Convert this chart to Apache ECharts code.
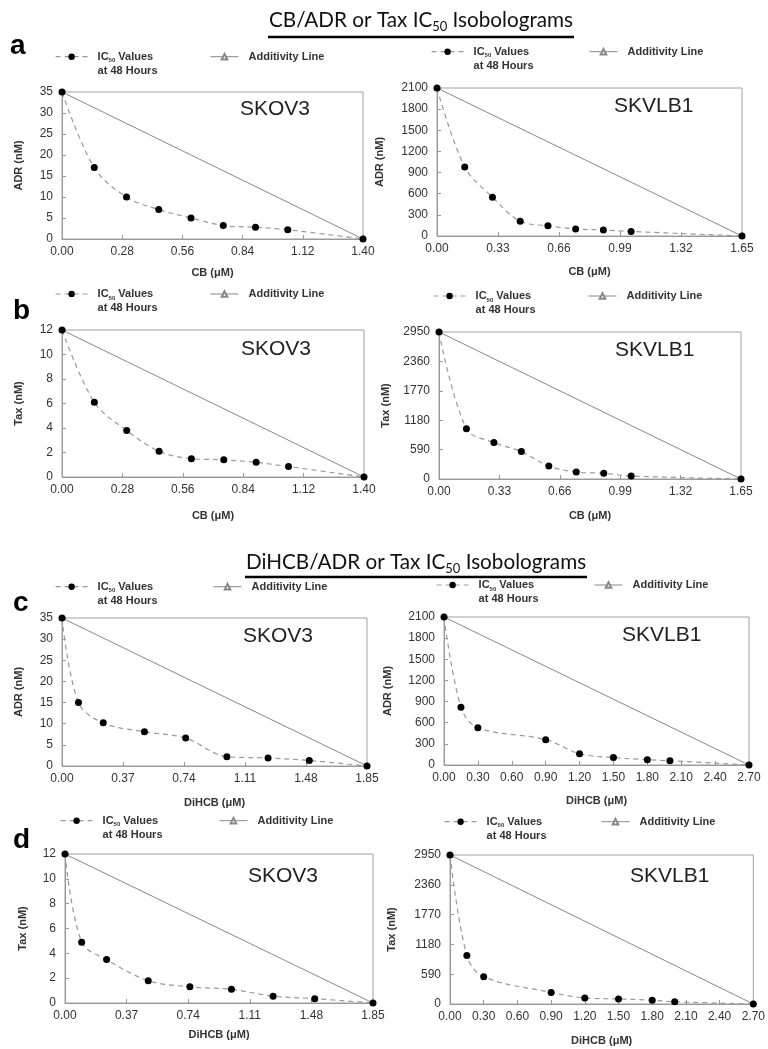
<!DOCTYPE html>
<html><head><meta charset="utf-8">
<script src="https://cdn.jsdelivr.net/npm/echarts@6/dist/echarts.min.js"></script>
<style>html,body{margin:0;padding:0;background:#fff}#c{width:768px;height:1049px}</style>
</head><body><div id="c"></div>
<script>
// ---------- DATA ----------
// Panel a (CB / ADR)
const aSkov3X = [0, 0.15, 0.30, 0.45, 0.60, 0.75, 0.90, 1.05, 1.40];
const aSkov3Y = [35, 17, 10, 7, 5, 3.2, 2.8, 2.2, 0];
const aSkvlb1X = [0, 0.15, 0.30, 0.45, 0.60, 0.75, 0.90, 1.05, 1.65];
const aSkvlb1Y = [2100, 980, 550, 210, 145, 100, 85, 65, 0];
// Panel b (CB / Tax)
const bSkov3X = [0, 0.15, 0.30, 0.45, 0.60, 0.75, 0.90, 1.05, 1.40];
const bSkov3Y = [12, 6.1, 3.8, 2.1, 1.5, 1.4, 1.2, 0.85, 0];
const bSkvlb1X = [0, 0.15, 0.30, 0.45, 0.60, 0.75, 0.90, 1.05, 1.65];
const bSkvlb1Y = [2950, 1010, 730, 550, 260, 140, 115, 60, 0];
// Panel c (DiHCB / ADR)
const cSkov3X = [0, 0.10, 0.25, 0.50, 0.75, 1.00, 1.25, 1.50, 1.85];
const cSkov3Y = [35, 15, 10.2, 8.1, 6.6, 2.2, 1.9, 1.3, 0];
const cSkvlb1X = [0, 0.15, 0.30, 0.90, 1.20, 1.50, 1.80, 2.00, 2.70];
const cSkvlb1Y = [2100, 820, 530, 360, 160, 105, 75, 60, 0];
// Panel d (DiHCB / Tax)
const dSkov3X = [0, 0.10, 0.25, 0.50, 0.75, 1.00, 1.25, 1.50, 1.85];
const dSkov3Y = [12, 4.9, 3.5, 1.8, 1.3, 1.1, 0.55, 0.35, 0];
const dSkvlb1X = [0, 0.15, 0.30, 0.90, 1.20, 1.50, 1.80, 2.00, 2.70];
const dSkvlb1Y = [2950, 960, 540, 230, 120, 100, 75, 45, 0];

// Axis ranges  [max, interval]
const xRangeCB_SKOV3 = [1.40, 0.28];
const xRangeCB_SKVLB1 = [1.65, 0.33];
const xRangeDi_SKOV3 = [1.85, 0.37];
const xRangeDi_SKVLB1 = [2.70, 0.30];
const yRangeADR_SKOV3 = [35, 5];
const yRangeADR_SKVLB1 = [2100, 300];
const yRangeTax_SKOV3 = [12, 2];
const yRangeTax_SKVLB1 = [2950, 590];

const titles = ['CB/ADR or Tax IC', 'DiHCB/ADR or Tax IC'];
const panelLetters = ['a', 'b', 'c', 'd'];
const cellNames = ['SKOV3', 'SKVLB1'];
const IC_NAME = 'IC50 Values at 48 Hours';
const ADD_NAME = 'Additivity Line';

// ---------- PANELS (data refs + layout) ----------
const panels = [
  {x:aSkov3X, y:aSkov3Y, xr:xRangeCB_SKOV3, yr:yRangeADR_SKOV3, xn:'CB (μM)', yn:'ADR (nM)', cell:0,
   g:[62,92,301,147], xg:28, yg:38, ly:56.7, ic:[50,97], ad:[213,248], cl:[240,110]},
  {x:aSkvlb1X, y:aSkvlb1Y, xr:xRangeCB_SKVLB1, yr:yRangeADR_SKVLB1, xn:'CB (μM)', yn:'ADR (nM)', cell:1,
   g:[437,88,305,148], xg:30, yg:52, ly:51.7, ic:[437,473], ad:[587,627], cl:[614,107]},
  {x:bSkov3X, y:bSkov3Y, xr:xRangeCB_SKOV3, yr:yRangeTax_SKOV3, xn:'CB (μM)', yn:'Tax (nM)', cell:0,
   g:[62,330,302,147], xg:33, yg:38, ly:294, ic:[60,97], ad:[218,248], cl:[241,350]},
  {x:bSkvlb1X, y:bSkvlb1Y, xr:xRangeCB_SKVLB1, yr:yRangeTax_SKVLB1, xn:'CB (μM)', yn:'Tax (nM)', cell:1,
   g:[439,332,302,147], xg:31, yg:48, ly:296, ic:[439,475], ad:[591,626], cl:[615,351]},
  {x:cSkov3X, y:cSkov3Y, xr:xRangeDi_SKOV3, yr:yRangeADR_SKOV3, xn:'DiHCB (μM)', yn:'ADR (nM)', cell:0,
   g:[62,618,305,148], xg:31, yg:38, ly:586.7, ic:[62,97], ad:[213,251], cl:[243,637]},
  {x:cSkvlb1X, y:cSkvlb1Y, xr:xRangeDi_SKVLB1, yr:yRangeADR_SKVLB1, xn:'DiHCB (μM)', yn:'ADR (nM)', cell:1,
   g:[444,617,305,148], xg:30, yg:51, ly:585, ic:[444,478], ad:[596,632], cl:[622,636]},
  {x:dSkov3X, y:dSkov3Y, xr:xRangeDi_SKOV3, yr:yRangeTax_SKOV3, xn:'DiHCB (μM)', yn:'Tax (nM)', cell:0,
   g:[65,854,308,149], xg:26, yg:37, ly:820.7, ic:[63,102], ad:[218,257], cl:[248,877]},
  {x:dSkvlb1X, y:dSkvlb1Y, xr:xRangeDi_SKVLB1, yr:yRangeTax_SKVLB1, xn:'DiHCB (μM)', yn:'Tax (nM)', cell:1,
   g:[450,855,307,149], xg:31, yg:53, ly:821.7, ic:[451,486], ad:[604,639], cl:[630,877]}
];

const FONT = 'Arial, "Liberation Sans", sans-serif';
const TFONT = 'Lato, "Open Sans", sans-serif';
const grid = [], xAxis = [], yAxis = [], series = [], legend = [], graphic = [];

panels.forEach((p, i) => {
  grid.push({left:p.g[0], top:p.g[1], width:p.g[2], height:p.g[3], show:true,
             borderColor:'#a0a0a0', borderWidth:1, containLabel:false});
  xAxis.push({type:'value', gridIndex:i, min:0, max:p.xr[0], interval:p.xr[1],
    name:p.xn, nameLocation:'middle', nameGap:p.xg,
    nameTextStyle:{fontFamily:FONT, fontSize:11, fontWeight:'bold', color:'#333'},
    axisLine:{show:true, lineStyle:{color:'#999', width:1}},
    axisTick:{show:true, inside:true, length:4, lineStyle:{color:'#999'}},
    splitLine:{show:false},
    axisLabel:{fontFamily:FONT, fontSize:12, color:'#333', margin:7,
      formatter:v => v.toFixed(2)}});
  yAxis.push({type:'value', gridIndex:i, min:0, max:p.yr[0], interval:p.yr[1],
    name:p.yn, nameLocation:'middle', nameGap:p.yg, nameRotate:90,
    nameTextStyle:{fontFamily:FONT, fontSize:11, fontWeight:'bold', color:'#333'},
    axisLine:{show:true, lineStyle:{color:'#999', width:1}},
    axisTick:{show:true, inside:true, length:4, lineStyle:{color:'#999'}},
    splitLine:{show:false},
    axisLabel:{fontFamily:FONT, fontSize:12, color:'#333', margin:9,
      formatter:v => String(Math.round(v))}});
  series.push({name:ADD_NAME, type:'line', xAxisIndex:i, yAxisIndex:i,
    data:[[0, p.y[0]], [p.x[p.x.length-1], 0]],
    symbol:'emptyTriangle', symbolSize:6, showSymbol:false,
    itemStyle:{color:'#888'}, lineStyle:{color:'#888', width:1}, z:2, silent:true});
  series.push({name:IC_NAME, type:'line', xAxisIndex:i, yAxisIndex:i,
    data:p.x.map((v, k) => [v, p.y[k]]), smooth:0.35,
    symbol:'circle', symbolSize:7, showSymbol:true,
    itemStyle:{color:'#000'}, lineStyle:{color:'#999', width:1.2, type:[5,4]}, z:3, silent:true});
  // legends
  legend.push({data:[IC_NAME], left:p.ic[1] - 32 - 10, top:p.ly - 21, padding:0,
    itemWidth:32, itemHeight:8, selectedMode:false, lineStyle:{width:1.2},
    formatter:() => '{n|IC}{s|50}{n| Values}\n{n|at 48 Hours}',
    textStyle:{padding:[14,0,0,5], lineHeight:14,
      rich:{n:{fontFamily:FONT, fontSize:11, fontWeight:'bold', color:'#333', lineHeight:14},
            s:{fontFamily:FONT, fontSize:6, fontWeight:'bold', color:'#333', lineHeight:14, verticalAlign:'bottom'}}}});
  legend.push({data:[ADD_NAME], left:p.ad[1] - 28 - 10, top:p.ly - 7, padding:0,
    itemWidth:28, itemHeight:7, selectedMode:false, lineStyle:{width:1},
    itemStyle:{borderWidth:1},
    textStyle:{padding:[0,0,0,5], lineHeight:14, fontFamily:FONT, fontSize:11, fontWeight:'bold', color:'#333'}});
  // cell line label
  graphic.push({type:'text', left:p.cl[0], top:p.cl[1] - 11,
    style:{text:cellNames[p.cell], font:'21px ' + FONT, fill:'#222'}});
});

// Titles with underline
const titleSpecs = [{cx:421, cy:20, ux:[268,574], uy:37, t:titles[0]}, {cx:416, cy:562, ux:[245,587], uy:577, t:titles[1]}];
titleSpecs.forEach(s => {
  graphic.push({type:'text', x:s.cx, y:s.cy,
    style:{text:'{t|' + s.t + '}{s|50}{t| Isobolograms}', align:'center', verticalAlign:'middle',
      rich:{t:{fontFamily:TFONT, fontSize:20.7, fill:'#111', lineHeight:26},
            s:{fontFamily:TFONT, fontSize:13, fill:'#111', lineHeight:26, verticalAlign:'bottom', padding:[6,0,0,0]}}}});
  graphic.push({type:'line', shape:{x1:s.ux[0], y1:s.uy, x2:s.ux[1], y2:s.uy}, style:{stroke:'#000', lineWidth:2.5}});
});
// panel letters
const letterPos = [[10,46],[13,311],[13,603],[13,840]];
panelLetters.forEach((l, i) => {
  graphic.push({type:'text', x:letterPos[i][0], y:letterPos[i][1],
    style:{text:l, font:'bold 28px ' + FONT, fill:'#000', verticalAlign:'middle'}});
});

const chart = echarts.init(document.getElementById('c'), null, {renderer:'canvas'});
chart.setOption({animation:false, backgroundColor:'#fff', grid, xAxis, yAxis, series, legend, graphic});
</script></body></html>
